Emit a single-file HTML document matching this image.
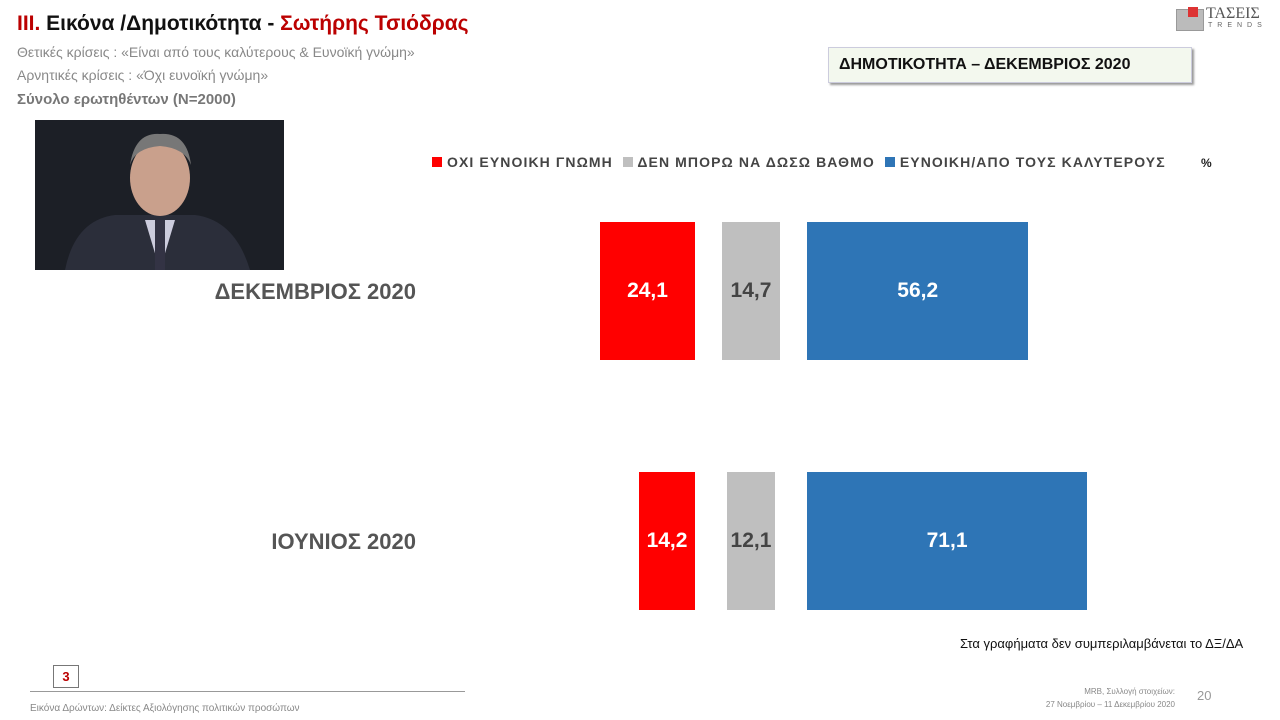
<!DOCTYPE html>
<html><head><meta charset="utf-8">
<style>
body{margin:0;width:1280px;height:720px;background:#fff;font-family:"Liberation Sans","DejaVu Sans",sans-serif;position:relative;overflow:hidden}
.abs{position:absolute;white-space:nowrap}
</style></head><body>
<div class="abs" style="left:17px;top:12px;font-size:21px;font-weight:bold;color:#111"><span style="color:#b00">III.</span> Εικόνα /Δημοτικότητα - <span style="color:#b00">Σωτήρης Τσιόδρας</span></div>
<div class="abs" style="left:17px;top:44px;font-size:14px;color:#888">Θετικές κρίσεις : «Είναι από τους καλύτερους &amp;  Ευνοϊκή γνώμη»</div>
<div class="abs" style="left:17px;top:67px;font-size:14px;color:#888">Αρνητικές κρίσεις : «Όχι ευνοϊκή γνώμη»</div>
<div class="abs" style="left:17px;top:91px;font-size:15px;font-weight:bold;color:#777">Σύνολο ερωτηθέντων (N=2000)</div>
<div class="abs" style="left:1176px;top:7px;width:90px;height:24px">
 <div style="position:absolute;left:0;top:2px;width:26px;height:20px;background:#bbb;border:1px solid #999"></div>
 <div style="position:absolute;left:12px;top:0;width:10px;height:10px;background:#d33"></div>
 <div style="position:absolute;left:30px;top:-2px;font-family:'Liberation Serif',serif;font-size:16px;color:#555">ΤΑΣΕΙΣ</div>
 <div style="position:absolute;left:32px;top:15px;font-size:7px;letter-spacing:5px;color:#666">TRENDS</div>
</div>
<div class="abs" style="left:828px;top:47px;width:364px;height:36px;background:#f3f8ee;border:1px solid #ccd;box-shadow:2px 2px 2px #999;box-sizing:border-box;font-size:16px;font-weight:bold;color:#111;line-height:34px;padding-left:10px">ΔΗΜΟΤΙΚΟΤΗΤΑ – ΔΕΚΕΜΒΡΙΟΣ 2020</div>
<svg class="abs" style="left:35px;top:120px" width="249" height="150">
 <rect width="249" height="150" fill="#1c1f26"/>
 <path d="M30 150 Q40 100 80 95 L160 95 Q200 100 215 150Z" fill="#2b2e3a"/>
 <path d="M110 100 L125 150 L140 100Z" fill="#ccd"/>
 <rect x="120" y="100" width="10" height="50" fill="#334"/>
 <ellipse cx="125" cy="58" rx="30" ry="38" fill="#c9a08c"/>
 <path d="M95 45 Q100 12 125 14 Q152 12 156 45 Q150 28 125 26 Q100 28 95 45Z" fill="#777"/>
</svg>
<div id="legend" class="abs" style="left:432px;top:154px;font-size:14px;font-weight:bold;color:#444;letter-spacing:1.1px">
 <span><span style="display:inline-block;width:10px;height:10px;background:#f00"></span> ΟΧΙ ΕΥΝΟΙΚΗ ΓΝΩΜΗ</span>&nbsp;
 <span><span style="display:inline-block;width:10px;height:10px;background:#bfbfbf"></span> ΔΕΝ ΜΠΟΡΩ ΝΑ ΔΩΣΩ ΒΑΘΜΟ</span>&nbsp;
 <span><span style="display:inline-block;width:10px;height:10px;background:#2e75b6"></span> ΕΥΝΟΙΚΗ/ΑΠΟ ΤΟΥΣ ΚΑΛΥΤΕΡΟΥΣ</span>
</div>
<div class="abs" style="left:1201px;top:156px;font-size:12px;font-weight:bold;color:#222">%</div>
<div id="chart"></div>
<div class="abs" style="left:960px;top:636px;font-size:13px;color:#111">Στα γραφήματα δεν συμπεριλαμβάνεται το ΔΞ/ΔΑ</div>
<div class="abs" style="left:53px;top:665px;width:26px;height:23px;border:1px solid #777;box-sizing:border-box;text-align:center;font-size:13px;font-weight:bold;color:#b00;line-height:22px">3</div>
<div class="abs" style="left:30px;top:691px;width:435px;height:1px;background:#999"></div>
<div class="abs" style="left:30px;top:703px;font-size:10px;color:#888">Εικόνα Δρώντων: Δείκτες Αξιολόγησης πολιτικών προσώπων</div>
<div class="abs" style="left:1000px;top:685px;width:175px;text-align:right;font-size:8px;color:#888;line-height:13px">MRB, Συλλογή στοιχείων:<br>27 Νοεμβρίου –  11 Δεκεμβρίου 2020</div>
<div class="abs" style="left:1197px;top:688px;font-size:13px;color:#999">20</div>
<script>
const periods=["ΔΕΚΕΜΒΡΙΟΣ 2020","ΙΟΥΝΙΟΣ 2020"];
const negative=[24.1,14.2];
const noRating=[14.7,12.1];
const positive=[56.2,71.1];
const labels=[["24,1","14,7","56,2"],["14,2","12,1","71,1"]];
const chart=document.getElementById('chart');
const k=3.94;
const xScale=v=>v*k;
const rowTop=i=>222+i*250;
const H=138;
function bar(x,y,w,color,txt,txtColor,name){
 const d=document.createElement('div');
 
 
 d.style.cssText=`position:absolute;left:${x}px;top:${y}px;width:${w}px;height:${H}px;background:${color};color:${txtColor};font-weight:bold;font-size:21px;display:flex;align-items:center;justify-content:center`;
 d.textContent=txt;
 chart.appendChild(d);
}
periods.forEach((p,i)=>{
 const y=rowTop(i);
 const l=document.createElement('div');
 
 
 l.style.cssText=`position:absolute;right:${1280-416}px;top:${y+57}px;font-size:22px;font-weight:bold;color:#555;white-space:nowrap`;
 l.textContent=p;
 chart.appendChild(l);
 const wn=xScale(negative[i]);
 bar(695-wn,y,wn,'#f00',labels[i][0],'#fff','bar-negative-'+i);
 const wg=xScale(noRating[i]);
 bar(751-wg/2,y,wg,'#bfbfbf',labels[i][1],'#444','bar-no-rating-'+i);
 const wp=xScale(positive[i]);
 bar(807,y,wp,'#2e75b6',labels[i][2],'#fff','bar-positive-'+i);
});
</script>
</body></html>
